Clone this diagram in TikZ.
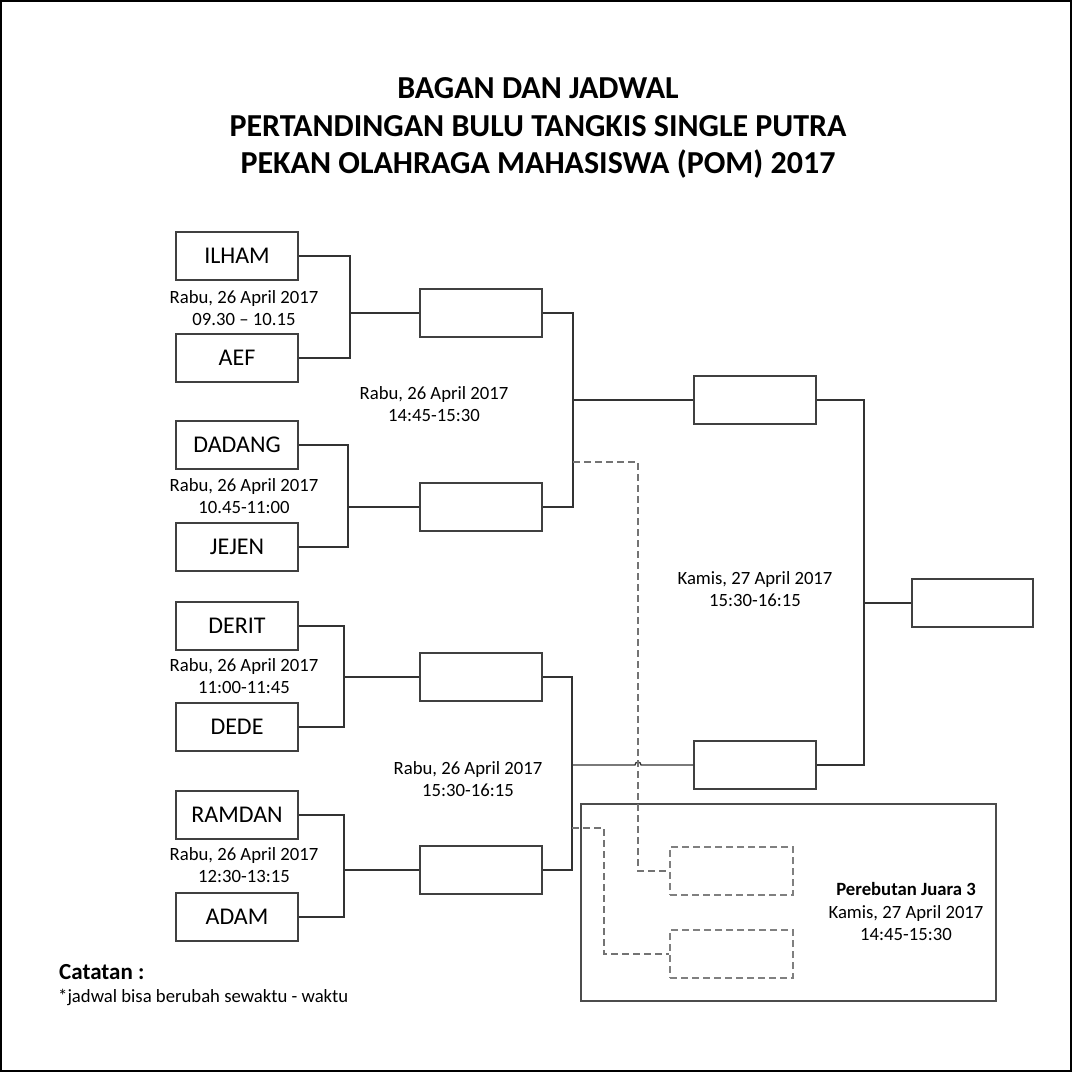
\documentclass[tikz,border=0pt]{standalone}
\usepackage{fontspec}
\setmainfont{Carlito}
\begin{document}
\begin{tikzpicture}[x=1pt,y=-1pt,
  lw/.style={line width=1.3pt},
  pbox/.style={draw=black!75, lw, minimum width=122pt, minimum height=48pt, inner sep=0pt, font=\fontsize{24}{28}\selectfont},
  dbox/.style={draw=black!50, line width=1.3pt, dash pattern=on 7pt off 4pt, minimum width=123pt, minimum height=48pt, inner sep=0pt},
  conn/.style={draw=black!80, lw},
  dconn/.style={draw=black!55, lw, dash pattern=on 7pt off 4pt},
  datet/.style={align=center, inner sep=0pt, font=\fontsize{18.7}{22.5}\selectfont},
  titlet/.style={align=center, inner sep=0pt, font=\fontsize{32}{37.5}\selectfont\bfseries},
]
\useasboundingbox (0,0) rectangle (1073,1073);
\draw[lw] (1,1) rectangle (1071,1071);

% title
\node[titlet] (title) at (538,128) {BAGAN DAN JADWAL\\PERTANDINGAN BULU TANGKIS SINGLE PUTRA\\PEKAN OLAHRAGA MAHASISWA (POM) 2017};

% players
\node[pbox] (ilham) at (237,256) {ILHAM};
\node[pbox] (aef) at (237,358) {AEF};
\node[pbox] (dadang) at (237,445) {DADANG};
\node[pbox] (jejen) at (237,547) {JEJEN};
\node[pbox] (derit) at (237,626) {DERIT};
\node[pbox] (dede) at (237,727) {DEDE};
\node[pbox] (ramdan) at (237,815) {RAMDAN};
\node[pbox] (adam) at (237,917) {ADAM};

% round 2
\node[pbox] (r2a) at (481,313) {};
\node[pbox] (r2b) at (481,507) {};
\node[pbox] (r2c) at (481,677) {};
\node[pbox] (r2d) at (481,870) {};

% semifinal
\node[pbox] (sf1) at (755,400) {};
\node[pbox] (sf2) at (755,765) {};

% final
\node[pbox, minimum width=121pt] (fin) at (972.5,603) {};

% third place
\draw[draw=black!70, lw] (581,804) rectangle (996,1001);
\node[dbox] (t1) at (731.5,871) {};
\node[dbox] (t2) at (731.5,954) {};

% junctions
\coordinate (j1) at (350,313);
\coordinate (j2) at (348,507);
\coordinate (j3) at (344,677);
\coordinate (j4) at (344,870);
\coordinate (j5) at (573,400);
\coordinate (j6) at (572,765);
\coordinate (j7) at (864,603);

\draw[conn] (ilham.east) -| (j1) |- (aef.east);
\draw[conn] (j1) -- (r2a.west);
\draw[conn] (dadang.east) -| (j2) |- (jejen.east);
\draw[conn] (j2) -- (r2b.west);
\draw[conn] (derit.east) -| (j3) |- (dede.east);
\draw[conn] (j3) -- (r2c.west);
\draw[conn] (ramdan.east) -| (j4) |- (adam.east);
\draw[conn] (j4) -- (r2d.west);

\draw[conn] (r2a.east) -| (j5) |- (r2b.east);
\draw[conn] (j5) -- (sf1.west);
\draw[conn] (r2c.east) -| (j6) |- (r2d.east);
\draw[conn] (j6) -- (635,765) arc[start angle=180, end angle=360, radius=3] -- (sf2.west);

\draw[conn] (sf1.east) -| (j7) |- (sf2.east);
\draw[conn] (j7) -- (fin.west);

% dashed losers paths
\coordinate (d1) at (573,462);
\coordinate (d2) at (572,828);
\draw[dconn] (d1) -- (638,462) -- (638,871) -- (t1.west);
\draw[dconn] (d2) -- (604,828) -- (604,954) -- (t2.west);

% dates
\node[datet] (dt1) at (244,308) {Rabu, 26 April 2017\\09.30 -- 10.15};
\node[datet] (dt2) at (244,496) {Rabu, 26 April 2017\\10.45-11:00};
\node[datet] (dt3) at (244,676) {Rabu, 26 April 2017\\11:00-11:45};
\node[datet] (dt4) at (244,865) {Rabu, 26 April 2017\\12:30-13:15};
\node[datet] (dt5) at (434,404) {Rabu, 26 April 2017\\14:45-15:30};
\node[datet] (dt6) at (468,779) {Rabu, 26 April 2017\\15:30-16:15};
\node[datet] (dt7) at (755,589) {Kamis, 27 April 2017\\15:30-16:15};
\node[datet] (dt8) at (906,912) {\textbf{Perebutan Juara 3}\\Kamis, 27 April 2017\\14:45-15:30};

% notes
\node[anchor=west, inner sep=0pt, font=\fontsize{23}{26}\selectfont\bfseries] (cat) at (59,972) {Catatan :};
\node[anchor=west, inner sep=0pt, font=\fontsize{18.7}{22}\selectfont] (note) at (58,997) {*jadwal bisa berubah sewaktu - waktu};
\end{tikzpicture}
\end{document}
